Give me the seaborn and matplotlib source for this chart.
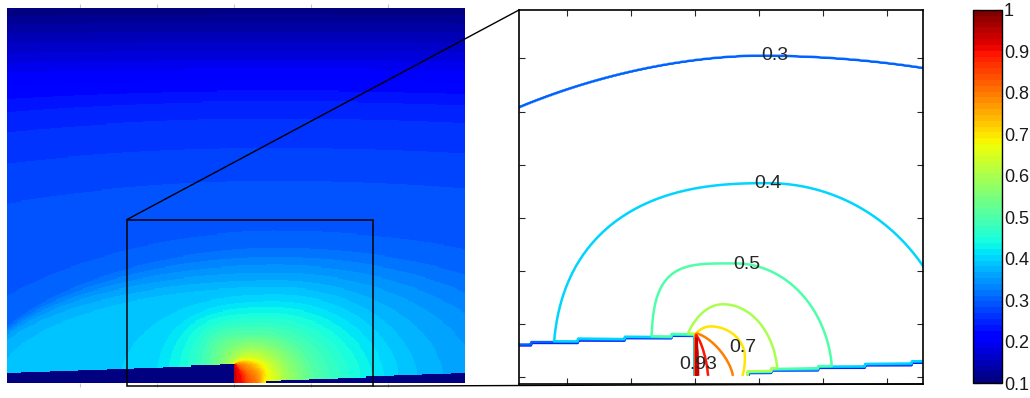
import numpy as np
import matplotlib
matplotlib.use("Agg")
import matplotlib.pyplot as plt
import seaborn as sns
from matplotlib.colors import Normalize
from matplotlib.patches import Rectangle, ConnectionPatch

# ---------------------------------------------------------------------------
# Field description: every iso-level is a (super)ellipse around the heated
# gap in the substrate.  Lengths are in grid units (x to the right of the
# hot corner, y above the bottom of the domain).
# ---------------------------------------------------------------------------
levels      = [0.10, 0.15, 0.20, 0.25, 0.28, 0.30, 0.35, 0.38, 0.40, 0.50, 0.60, 0.70, 0.80, 0.90, 0.93]
center_x    = [4.0, 4.0, 4.0, 4.0, 4.0, 4.1, 4.4, 4.5, 4.7, 2.6, 1.8, 1.0, 0.0, 0.0, 0.0]
center_y    = [0.0, 0.0, 0.0, 0.0, 0.0, 0.0, 0.0, 0.0, 0.0, 0.0, 0.0, 0.8, 0.0, 0.0, 0.0]
half_left   = [300.0, 250.0, 180.0, 90.0, 70.0, 31.8, 31.5, 31.0, 13.8, 5.4, 2.8, 1.44, 0.6, 0.3, 0.1]
half_right  = [300.0, 250.0, 200.0, 110.0, 80.0, 38.4, 22.0, 15.0, 12.1, 6.2, 3.5, 2.2, 2.45, 0.85, 0.2]
rise        = [34.4, 31.5, 28.5, 25.0, 19.5, 13.0, 10.2, 8.8, 7.85, 4.6, 2.95, 1.25, 1.78, 1.74, 1.72]
drop        = [34.4, 31.5, 28.5, 25.0, 19.5, 13.0, 10.2, 8.8, 7.85, 4.6, 2.95, 2.0, 1.78, 1.74, 1.72]
power_left  = [2.0, 2.0, 2.0, 2.0, 2.0, 1.8, 2.0, 2.0, 2.5, 4.0, 2.0, 2.0, 1.5, 1.5, 2.0]
power_right = [2.0, 2.0, 2.0, 2.0, 2.0, 2.0, 2.0, 2.0, 2.0, 2.0, 2.0, 2.0, 1.5, 1.5, 2.0]
peak_value = 0.97

# tilted substrate on both sides of the heated gap (top surface height)
substrate_left_x   = [-23.9, 0.0]
substrate_left_top = [0.9, 1.7]
substrate_right_x   = [3.4, 24.3]
substrate_right_top = [0.2, 0.9]
substrate_value = 0.1

# contour lines drawn in the magnified view and their labels
line_levels  = [0.2, 0.3, 0.4, 0.5, 0.6, 0.7, 0.8, 0.9, 0.93]
label_levels = [0.3, 0.4, 0.5, 0.7, 0.93]
label_x      = [5.1, 4.7, 3.3, 2.6, 0.58]
label_y      = [13.0, 7.8, 4.45, 1.1, 0.5]

cbar_ticks  = [0.1, 0.2, 0.3, 0.4, 0.5, 0.6, 0.7, 0.8, 0.9, 1.0]
cbar_labels = ["0.1", "0.2", "0.3", "0.4", "0.5", "0.6", "0.7", "0.8", "0.9", "1"]

# ---------------------------------------------------------------------------
# grids and field
# ---------------------------------------------------------------------------
CELL = 0.1                      # mesh size of the simulation
FINE = 0.04                     # sampling used for the iso-lines
X_MIN, X_MAX = -23.9, 24.3
Y_MIN, Y_MAX = 0.0, 34.1
ZOOM_X = (-11.28, 14.62)
ZOOM_Y = (-0.28, 14.86)


def level_field(X, Y):
    """Blend between the nested iso-level shapes."""
    rho = []
    for k in range(len(levels)):
        dx = X - center_x[k]
        dy = Y - center_y[k]
        a = np.where(dx < 0, half_left[k], half_right[k])
        p = np.where(dx < 0, power_left[k], power_right[k])
        b = np.where(dy < 0, drop[k], rise[k])
        rho.append((np.abs(dx / a) ** p + np.abs(dy / b) ** p) ** (1.0 / p))
    rho = np.maximum.accumulate(np.array(rho), axis=0)   # keep shapes nested
    lr = np.log(np.maximum(rho, 1e-9))
    lv = np.array(levels)
    K = len(levels)
    n_in = (lr < 0).sum(axis=0)
    i_lo = np.clip(n_in - 1, 0, K - 1)
    i_hi = np.clip(n_in, 0, K - 1)
    lr_lo = np.take_along_axis(lr, i_lo[None], 0)[0]
    lr_hi = np.take_along_axis(lr, i_hi[None], 0)[0]
    t = np.clip(-lr_lo / np.maximum(lr_hi - lr_lo, 1e-9), 0, 1)
    f = lv[i_lo] + (lv[i_hi] - lv[i_lo]) * t
    f = np.where(n_in == 0, lv[0], f)
    f = np.where(n_in == K,
                 lv[-1] + (peak_value - lv[-1]) * np.clip(1 - rho[-1], 0, 1), f)
    return f


def substrate_weight(X, Y):
    """0 inside the substrate, 1 in the medium, one mesh cell of transition."""
    xs = X_MIN + CELL * (np.floor((X - X_MIN) / CELL) + 0.5)   # mesh column
    edge_l = CELL * np.ceil((np.interp(xs, substrate_left_x, substrate_left_top) - CELL / 2) / CELL)
    edge_r = CELL * np.ceil((np.interp(xs, substrate_right_x, substrate_right_top) - CELL / 2) / CELL)
    d_l = np.maximum(Y - edge_l, X - substrate_left_x[1])
    d_r = np.maximum(Y - edge_r, substrate_right_x[0] - X)
    w_l = np.clip((d_l + CELL / 2) / CELL, 0, 1)
    w_r = np.clip((d_r + CELL / 2) / CELL, 0, 1)
    return np.minimum(w_l, w_r)


def temperature(X, Y):
    w = substrate_weight(X, Y)
    return substrate_value + (level_field(X, Y) - substrate_value) * w


nx = int(round((X_MAX - X_MIN) / CELL))
ny = int(round((Y_MAX - Y_MIN) / CELL))
gx = X_MIN + CELL * (np.arange(nx) + 0.5)
gy = Y_MIN + CELL * (np.arange(ny) + 0.5)
X, Y = np.meshgrid(gx, gy)
field = temperature(X, Y)

fx = np.arange(ZOOM_X[0] - 0.2, ZOOM_X[1] + 0.2, FINE)
fy = np.arange(CELL / 2, ZOOM_Y[1] + 0.2, FINE)
FX, FY = np.meshgrid(fx, fy)
field_fine = temperature(FX, FY)

# ---------------------------------------------------------------------------
# figure
# ---------------------------------------------------------------------------
sns.set_style("white")
plt.rcParams["font.family"] = ["Liberation Sans", "DejaVu Sans"]
jet64 = matplotlib.colormaps["jet"].resampled(64)
norm = Normalize(vmin=0.1, vmax=1.0)
W, H = 1030, 398

fig = plt.figure(figsize=(W / 100, H / 100), dpi=100)
ax1 = fig.add_axes([7 / W, 1 - 383 / H, 458 / W, 375 / H])
ax2 = fig.add_axes([519 / W, 1 - 384 / H, 404 / W, 374 / H])
cax = fig.add_axes([973 / W, 1 - 383 / H, 29 / W, 373 / H])

# full field as a heat map (rows from top to bottom)
sns.heatmap(field[::-1], ax=ax1, cmap=jet64, vmin=0.1, vmax=1.0, cbar_ax=cax,
            xticklabels=False, yticklabels=False, rasterized=True)


def col(x):
    return (x - X_MIN) / CELL


def row(y):
    return (Y_MAX - y) / CELL


for s in ax1.spines.values():
    s.set_visible(False)
ax1.set_xticks([col(v) for v in (-16.2, -8.1, 0.0, 8.1, 16.2)])
ax1.tick_params(axis="x", top=True, bottom=True, direction="out", length=3,
                color="#c8c8c8", labelbottom=False, labeltop=False)

# magnified region marker
box = Rectangle((col(ZOOM_X[0]), row(ZOOM_Y[1])),
                (ZOOM_X[1] - ZOOM_X[0]) / CELL, (ZOOM_Y[1] - ZOOM_Y[0]) / CELL,
                fill=False, ec="black", lw=1.1, clip_on=False, zorder=5)
ax1.add_patch(box)

# colour bar
cbar = ax1.collections[0].colorbar
cbar.set_ticks(cbar_ticks, labels=cbar_labels)
cbar.outline.set_edgecolor("black")
cbar.outline.set_linewidth(1.0)
cax.tick_params(axis="y", direction="in", left=True, right=True, length=4,
                width=0.8, labelsize=13, labelcolor="#1a1a1a", pad=1.5)

# magnified contour view
cs = ax2.contour(FX, FY, field_fine, levels=line_levels, cmap=jet64, norm=norm,
                 linewidths=1.8)
ax2.set_xlim(*ZOOM_X)
ax2.set_ylim(*ZOOM_Y)
ax2.set_xticks([-8.2, -4.1, 0.0, 4.1, 8.2, 12.3])
ax2.set_yticks([0.0, 2.15, 4.3, 6.45, 8.6, 10.75, 12.9])
ax2.tick_params(direction="in", top=True, right=True, bottom=True, left=True,
                length=4, width=0.8, labelbottom=False, labelleft=False)
for s in ax2.spines.values():
    s.set_visible(True)
    s.set_edgecolor("black")
    s.set_linewidth(1.2)

# one label per annotated level, placed on that level's iso-line
for lvl, lx, ly in zip(label_levels, label_x, label_y):
    lcs = ax2.contour(FX, FY, field_fine, levels=[lvl], colors="none", linewidths=0)
    lcs.clabel(manual=[(lx, ly)], inline=False, fmt="%g",
               fontsize=14, colors="#262626")
for txt in ax2.texts:
    txt.set_rotation(0)

# lines joining the marker to the magnified view
for xa, xb in (((col(ZOOM_X[0]), row(ZOOM_Y[1])), (0, 1)),
               ((col(ZOOM_X[1]), row(ZOOM_Y[0])), (1, 0))):
    con = ConnectionPatch(xyA=xa, coordsA=ax1.transData,
                          xyB=xb, coordsB=ax2.transAxes,
                          color="black", lw=1.0)
    fig.add_artist(con)

fig.savefig("out.png", dpi=100)
